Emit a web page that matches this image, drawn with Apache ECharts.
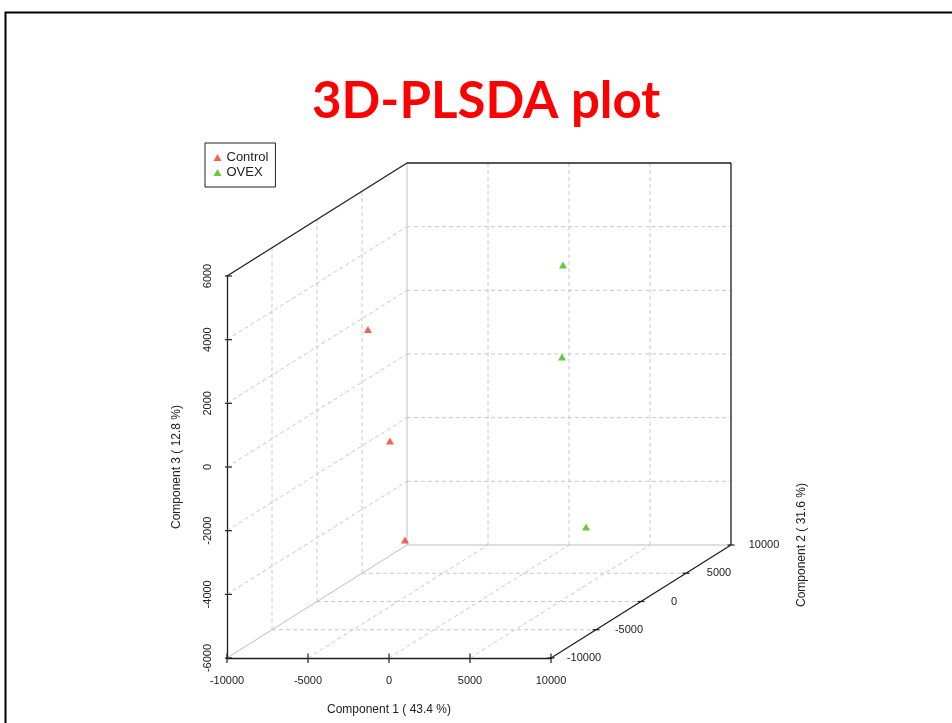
<!DOCTYPE html>
<html><head><meta charset="utf-8">
<script src="https://cdn.jsdelivr.net/npm/echarts@6/dist/echarts.min.js"></script>
<style>html,body{margin:0;padding:0;background:#fff}#c{width:952px;height:723px}</style>
</head><body><div id="c"></div>
<script>
// ---------------- data ----------------
const groups = ['Control', 'OVEX'];
const comp1Control = [-4630, -8830, -6235];
const comp2Control = [-4000, 6000, 3000];
const comp3Control = [3255, -2025, -4600];
const comp1OVEX = [9075, 6790, 3830];
const comp2OVEX = [-7000, -3000, 5000];
const comp3OVEX = [5815, 2215, -4545];
const xTicks = [-10000, -5000, 0, 5000, 10000];
const yTicks = [-10000, -5000, 0, 5000, 10000];
const zTicks = [-6000, -4000, -2000, 0, 2000, 4000, 6000];
const axisTitles = ['Component 1 ( 43.4 %)', 'Component 2 ( 31.6 %)', 'Component 3 ( 12.8 %)'];
const chartTitle = '3D-PLSDA plot';

// ---------------- layout ----------------
const box = {left: 227, bottom: 658, frontW: 324, frontH: 382, depthDX: 180, depthDY: 113};
const xMin = xTicks[0], xMax = xTicks[xTicks.length - 1];
const yMin = yTicks[0], yMax = yTicks[yTicks.length - 1];
const zMin = zTicks[0], zMax = zTicks[zTicks.length - 1];
const kx = box.depthDX / box.frontW * (xMax - xMin) / (yMax - yMin);
const kz = box.depthDY / box.frontH * (zMax - zMin) / (yMax - yMin);
function proj(x, y, z) { return [x + (y - yMin) * kx, z + (y - yMin) * kz]; }

const font = 'Liberation Sans';
const colors = ['#f23a2a', '#3cbd08'];

function pts(a, b, c) { return a.map((v, i) => proj(v, b[i], c[i])); }

const chart = echarts.init(document.getElementById('c'), null, {renderer: 'canvas'});

function renderFrame(params, api) {
  const P = (x, y, z) => api.coord(proj(x, y, z));
  const ch = [];
  const seg = (a, b, style) => ch.push({type: 'line', shape: {x1: a[0], y1: a[1], x2: b[0], y2: b[1]}, style: style});
  const dash = {stroke: '#c8c8c8', lineWidth: 1, lineDash: [4, 3]};
  const gray = {stroke: '#bfbfbf', lineWidth: 1};
  const black = {stroke: '#1e1e1e', lineWidth: 1.3};
  const inner = a => a.slice(1, -1);
  // floor grid
  inner(xTicks).forEach(x => seg(P(x, yMin, zMin), P(x, yMax, zMin), dash));
  inner(yTicks).forEach(y => seg(P(xMin, y, zMin), P(xMax, y, zMin), dash));
  // left wall grid
  inner(yTicks).forEach(y => seg(P(xMin, y, zMin), P(xMin, y, zMax), dash));
  inner(zTicks).forEach(z => seg(P(xMin, yMin, z), P(xMin, yMax, z), dash));
  // back wall grid
  inner(xTicks).forEach(x => seg(P(x, yMax, zMin), P(x, yMax, zMax), dash));
  inner(zTicks).forEach(z => seg(P(xMin, yMax, z), P(xMax, yMax, z), dash));
  // gray inner edges
  seg(P(xMin, yMin, zMin), P(xMin, yMax, zMin), gray);
  seg(P(xMin, yMax, zMin), P(xMin, yMax, zMax), gray);
  seg(P(xMin, yMax, zMin), P(xMax, yMax, zMin), gray);
  // black outer edges
  seg(P(xMin, yMin, zMax), P(xMin, yMax, zMax), black);
  seg(P(xMin, yMax, zMax), P(xMax, yMax, zMax), black);
  seg(P(xMax, yMax, zMax), P(xMax, yMax, zMin), black);
  seg(P(xMax, yMin, zMin), P(xMax, yMax, zMin), black);
  // ticks
  const tk = {stroke: '#1e1e1e', lineWidth: 1.2};
  xTicks.forEach(x => { const p = P(x, yMin, zMin); seg([p[0], p[1] - 4.5], [p[0], p[1] + 5], tk); });
  zTicks.forEach(z => { const p = P(xMin, yMin, z); seg([p[0] - 2, p[1]], [p[0] + 5, p[1]], tk); });
  yTicks.forEach(y => {
    const p = P(xMax, y, zMin);
    seg([p[0] - 3.5, p[1]], [p[0] + 3.5, p[1]], tk);
    ch.push({type: 'text', x: p[0] + 33, y: p[1], style: {text: String(y), fill: '#222', fontSize: 11, fontFamily: font, align: 'center', verticalAlign: 'middle'}});
  });
  const e = P(xMax, yMax, zMin);
  ch.push({type: 'text', x: e[0] + 71, y: e[1], rotation: Math.PI / 2,
    style: {text: axisTitles[1], fill: '#222', fontSize: 12, fontFamily: font, align: 'center', verticalAlign: 'middle'}});
  return {type: 'group', children: ch};
}

const plain = v => String(v);

const option = {
  animation: false,
  backgroundColor: '#fff',
  title: {
    text: chartTitle, left: 312, top: 76, padding: 0,
    textStyle: {color: '#ff0000', fontSize: 51, fontWeight: 'bold', fontFamily: 'Lato'}
  },
  legend: {
    data: groups, left: 205, top: 143, orient: 'vertical', icon: 'triangle',
    itemWidth: 8, itemHeight: 7, itemGap: 2, padding: [8, 7, 8, 8.5],
    borderColor: '#222', borderWidth: 1,
    textStyle: {fontSize: 13, color: '#222', fontFamily: font}
  },
  grid: [
    {left: box.left, top: box.bottom - box.frontH, width: box.frontW, height: box.frontH, outerBoundsMode: 'none'},
    {left: box.left, top: box.bottom - box.frontH - box.depthDY, width: box.frontW + box.depthDX, height: box.frontH + box.depthDY, outerBoundsMode: 'none'}
  ],
  xAxis: [
    {gridIndex: 0, type: 'value', min: xMin, max: xMax, interval: xTicks[1] - xTicks[0],
     axisLine: {onZero: false, lineStyle: {color: '#1e1e1e', width: 1.3}}, axisTick: {show: false}, splitLine: {show: false},
     axisLabel: {fontSize: 11, color: '#222', fontFamily: font, margin: 17, showMinLabel: true, showMaxLabel: true, formatter: plain},
     name: axisTitles[0], nameLocation: 'middle', nameGap: 46,
     nameTextStyle: {fontSize: 12, color: '#222', fontFamily: font}},
    {gridIndex: 1, type: 'value', show: false, min: xMin, max: proj(xMax, yMax, zMax)[0]}
  ],
  yAxis: [
    {gridIndex: 0, type: 'value', min: zMin, max: zMax, interval: zTicks[1] - zTicks[0],
     axisLine: {show: true, onZero: false, lineStyle: {color: '#1e1e1e', width: 1.3}}, axisTick: {show: false}, splitLine: {show: false},
     axisLabel: {fontSize: 11, color: '#222', fontFamily: font, rotate: 90, margin: 14, showMinLabel: true, showMaxLabel: true, formatter: plain},
     name: axisTitles[2], nameLocation: 'middle', nameGap: 44,
     nameTextStyle: {fontSize: 12, color: '#222', fontFamily: font}},
    {gridIndex: 1, type: 'value', show: false, min: zMin, max: proj(xMax, yMax, zMax)[1]}
  ],
  series: [
    {type: 'custom', name: 'frame', xAxisIndex: 1, yAxisIndex: 1, silent: true, z: 1,
     data: [[0, 0]], renderItem: renderFrame},
    {type: 'scatter', name: groups[0], xAxisIndex: 1, yAxisIndex: 1, z: 5,
     symbol: 'triangle', symbolSize: [8, 7], itemStyle: {color: colors[0]},
     data: pts(comp1Control, comp2Control, comp3Control)},
    {type: 'scatter', name: groups[1], xAxisIndex: 1, yAxisIndex: 1, z: 5,
     symbol: 'triangle', symbolSize: [8, 7], itemStyle: {color: colors[1]},
     data: pts(comp1OVEX, comp2OVEX, comp3OVEX)}
  ],
  graphic: [
    {type: 'rect', left: 3, top: 10, silent: true, z: 100,
     shape: {width: 1000, height: 1000}, style: {fill: 'none', stroke: '#000', lineWidth: 2}}
  ]
};
chart.setOption(option);
</script>
</body></html>
